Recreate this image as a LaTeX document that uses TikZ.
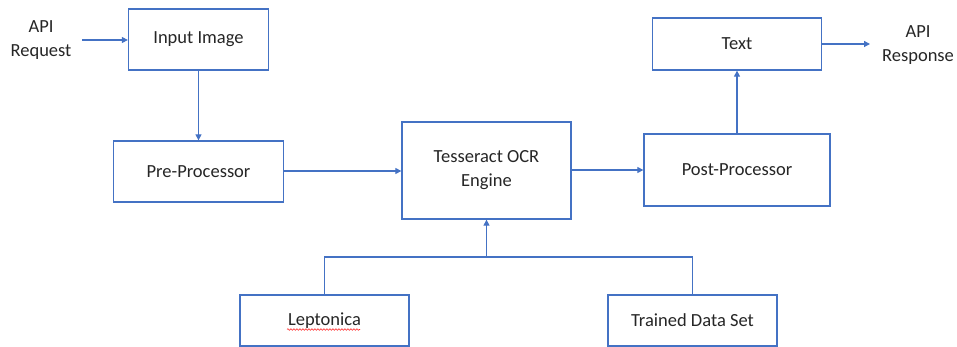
\documentclass[tikz,border=0pt]{standalone}
\usepackage{fontspec}
\setmainfont{Carlito}
\usetikzlibrary{arrows.meta,decorations.pathmorphing}
\definecolor{officeblue}{HTML}{4472C4}
\definecolor{txt}{HTML}{262626}
\tikzset{
  box/.style={draw=officeblue, line width=1.3pt, fill=white, inner sep=0pt, align=center,
    font=\fontsize{18.5}{24}\selectfont, text=txt},
  lbl/.style={inner sep=0pt, align=center, font=\fontsize{18.5}{24}\selectfont, text=txt},
  conn/.style={draw=officeblue, line width=1.2pt},
  arr/.style={conn, -{Triangle[width=6pt,length=6pt]}}
}
\begin{document}
\begin{tikzpicture}[x=1pt,y=-1pt]
\useasboundingbox (0,0) rectangle (957,347);
\node[box, minimum width=140pt, minimum height=61pt] (inp) at (198.5,39.5) {Input Image};
\node[box, minimum width=170pt, minimum height=61pt] (pre) at (198.5,171.5) {Pre-Processor};
\node[box, minimum width=169pt, minimum height=97pt] (tess) at (486.5,170.5) {Tesseract OCR\\Engine};
\node[box, minimum width=186pt, minimum height=72pt] (post) at (737,170) {Post-Processor};
\node[box, minimum width=169pt, minimum height=52pt] (txtbox) at (737,44) {Text};
\node[box, minimum width=169pt, minimum height=51pt] (lep) at (324.5,320.5) {Leptonica};
\node[box, minimum width=169pt, minimum height=51pt] (tds) at (692.5,320.5) {Trained Data Set};
\node[lbl] (req) at (41,40) {API\\Request};
\node[lbl] (resp) at (918,45) {API\\Response};
\coordinate (reqend) at (82,40);
\coordinate (respend) at (870,44);
\coordinate (bus) at (486.5,257);
% connectors
\draw[arr] (reqend) -- (reqend -| inp.west);
\draw[arr] (inp.south) -- (pre.north);
\draw[arr] (pre.east |- 0,171) -- (tess.west |- 0,171);
\draw[arr] (tess.east |- post.west) -- (post.west);
\draw[arr] (post.north) -- (txtbox.south);
\draw[arr] (txtbox.east) -- (respend);
\draw[conn] (lep.north) -- (lep.north |- bus) -- (tds.north |- bus) -- (tds.north);
\draw[arr] (bus) -- (tess.south);
% spell-check squiggle
\draw[red!85!white, line width=0.6pt, decorate, decoration={snake, segment length=3pt, amplitude=0.8pt}]
  (287,329.5) -- (360,329.5);
\end{tikzpicture}
\end{document}
